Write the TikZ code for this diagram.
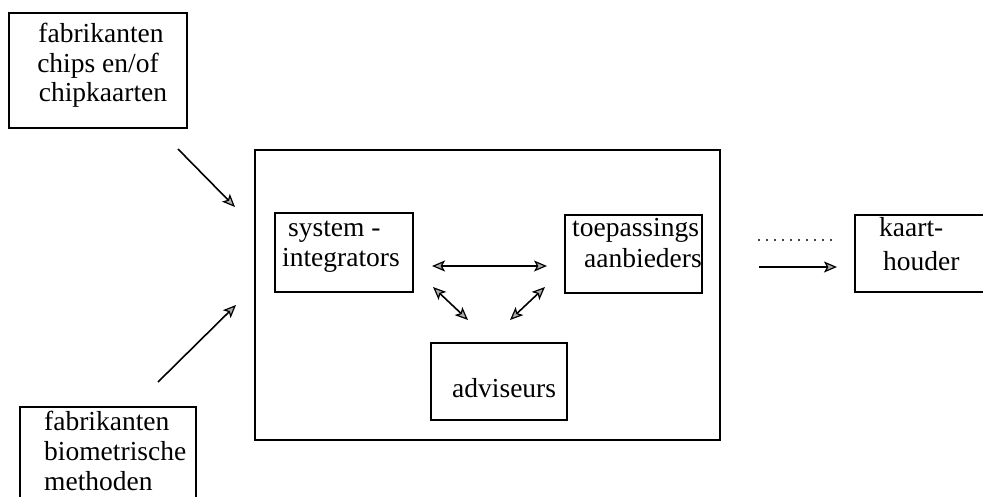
\documentclass[tikz,border=0pt]{standalone}
\usepackage{fontspec}
\setmainfont{Liberation Serif}
\usetikzlibrary{arrows.meta}
\begin{document}
\begin{tikzpicture}[x=1pt,y=-1pt,
  box/.style={draw,line width=2pt,inner sep=0pt,rectangle},
  lbl/.style={anchor=base west,inner sep=0pt,font=\fontsize{27.5}{30}\selectfont},
  clbl/.style={anchor=base,inner sep=0pt,font=\fontsize{27.5}{30}\selectfont},
  tip/.tip={Stealth[length=13pt,width=11pt,inset=3pt,fill=gray!65,line width=1.2pt]},
  arr/.style={line width=1.6pt,-tip},
  darr/.style={line width=1.6pt,tip-tip}]
\useasboundingbox (0,0) rectangle (983,497);
\clip (0,0) rectangle (983,497);
% boxes
\node[box,minimum width=178pt,minimum height=115pt] (chips) at (98,70.5) {};
\node[box,minimum width=176pt,minimum height=103pt] (bio) at (108,458.5) {};
\node[box,minimum width=465pt,minimum height=290pt] (big) at (487.5,295) {};
\node[box,minimum width=138pt,minimum height=79pt] (sys) at (344,252.5) {};
\node[box,minimum width=137pt,minimum height=78pt] (toep) at (633.5,254) {};
\node[box,minimum width=136pt,minimum height=77pt] (adv) at (499,381.5) {};
\node[box,minimum width=140pt,minimum height=77pt] (kaart) at (925,253.5) {};
% texts
\node[clbl] (c1) at (101,43) {fabrikanten};
\node[clbl] (c2) at (98,73) {chips en/of};
\node[clbl] (c3) at (103,102) {chipkaarten};
\node[lbl] (b1) at (44,430) {fabrikanten};
\node[lbl] (b2) at (44,460) {biometrische};
\node[lbl] (b3) at (44,490) {methoden};
\node[lbl] (s1) at (288,237) {system -};
\node[lbl] (s2) at (282,266) {integrators};
\node[lbl] (t1) at (572,237) {toepassings};
\node[lbl] (t2) at (584,268) {aanbieders};
\node[lbl] (a1) at (452,397) {adviseurs};
\node[lbl] (k1) at (879,237) {kaart-};
\node[lbl] (k2) at (883,270) {houder};
% connector ends
\coordinate (p1s) at (178,149); \coordinate (p1e) at (235,207);
\coordinate (p2s) at (158,382); \coordinate (p2e) at (236,305);
\coordinate (hs) at (432,266);  \coordinate (he) at (547,266);
\coordinate (ls) at (433,287);  \coordinate (le) at (468,320);
\coordinate (rs) at (545,287);  \coordinate (re) at (510,320);
\coordinate (ds) at (759,240);  \coordinate (de) at (832,240);
\coordinate (os) at (759,267);  \coordinate (oe) at (837,267);
% connectors
\draw[arr] (p1s) -- (p1e);
\draw[arr] (p2s) -- (p2e);
\draw[darr] (hs) -- (he);
\draw[darr] (ls) -- (le);
\draw[darr] (rs) -- (re);
\draw[line width=2.2pt,line cap=round,dash pattern=on 0pt off 8pt] (ds) -- (de);
\draw[arr] (os) -- (oe);
\end{tikzpicture}
\end{document}
